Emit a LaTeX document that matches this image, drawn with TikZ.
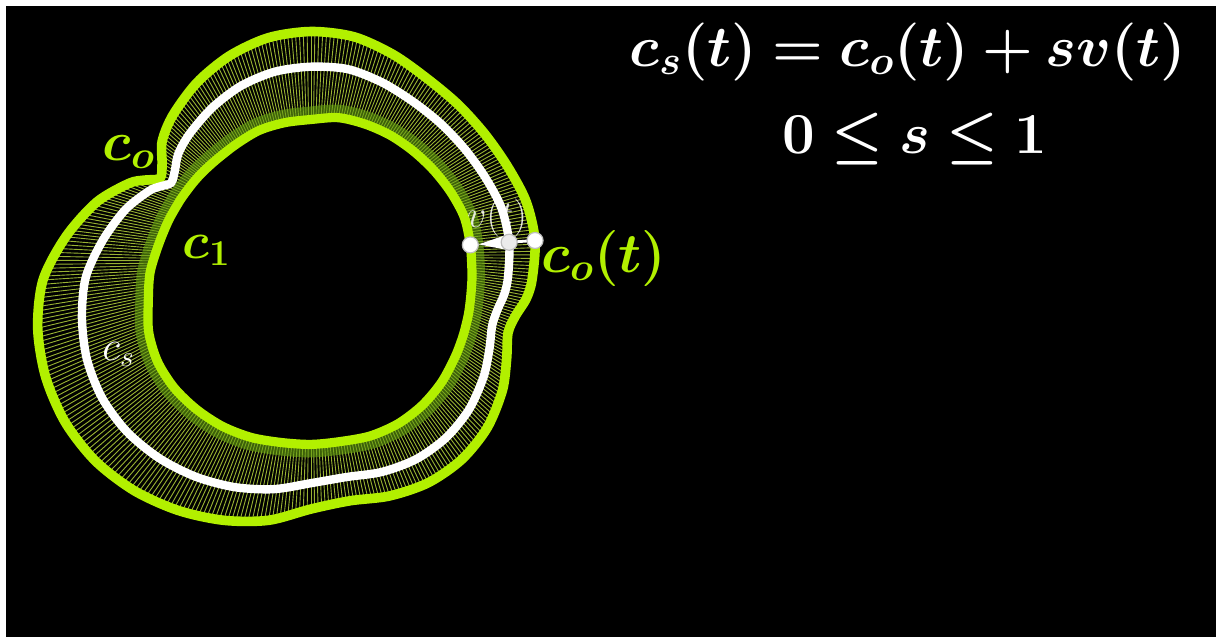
\RequirePackage{fix-cm}
\documentclass[tikz,border=0pt]{standalone}
\usepackage{bm}
\usetikzlibrary{calc,arrows.meta}
\definecolor{lime}{RGB}{178,240,0}
\definecolor{hatchc}{RGB}{180,210,60}
\definecolor{olivec}{RGB}{100,160,15}
\begin{document}
\begin{tikzpicture}[x=0.5pt,y=-0.5pt,
  co/.style={draw=lime,line width=4.8pt},
  cone/.style={draw=lime,line width=4.6pt},
  cs/.style={draw=white,line width=4.2pt},
  hatch/.style={draw=hatchc,line width=0.45pt,opacity=0.85},
  band/.style={draw=olivec,line width=13pt,opacity=0.6},
  dot/.style={circle,fill=white,draw=black!25,line width=0.6pt,minimum size=8pt,inner sep=0pt},
  vec/.style={draw=white,line width=1.4pt,-{Triangle[length=14pt,width=7pt]}},
  lbl/.style={inner sep=0pt,anchor=base west},
]
\useasboundingbox (0,0) rectangle (1216,637);
\fill[white] (0,0) rectangle (1216,637);
\fill[black] (6,6) rectangle (1216,637);

\def\cdata{0/221/161,10/227.5/163,20/229/165.5,30/227/165,40/227/164.5,50/229/164.5,60/232.5/165,70/240/165,80/247/164.6,90/248.5/160.5,100/246/159.5,110/238.5/158.3,120/228/155,130/215/153,137/203.5/152.8,142/189/152.8,146/182/152.8,149/194/153,152/206/153.2,160/228/154.3,170/249/156.5,180/268/161,190/277.5/164,200/282.5/170.3,210/284/173.7,220/281.5/174.1,230/275/172.7,240/266/171,250/255.7/168.4,260/244/165.2,270/229/164.4,280/224.2/164.2,290/229.8/166.8,300/234.2/168,310/234.4/167.5,320/230/165.8,330/221/163.2,338/211/161.8,345/204/161,350/207.5/160.5,355/216/160.5}

\gdef\olist{}\gdef\ilist{}\gdef\mlist{}
\foreach \a/\ro/\ri [count=\k] in \cdata {
  \coordinate (o\k) at ({311+\ro*cos(\a)},{280-\ro*sin(\a)});
  \coordinate (i\k) at ({311+(\ri-7*sin(\a))*cos(\a)},{273-(\ri-7*sin(\a))*sin(\a)});
  \coordinate (m\k) at ($(o\k)!0.4!(i\k)$);
  \expandafter\xdef\csname ang\k\endcsname{\a}
  \xdef\olist{\olist(o\k)}
  \xdef\ilist{\ilist(i\k)}
  \xdef\mlist{\mlist(m\k)}
  \xdef\N{\k}
}

% hatch lines joining c_o(t) and c_1(t)
\foreach \k in {1,...,\N} {
  \pgfmathtruncatemacro\kk{mod(\k,\N)+1}
  \edef\angA{\csname ang\k\endcsname}
  \edef\angB{\csname ang\kk\endcsname}
  \pgfmathsetmacro\spn{mod(\angB-\angA+360,360)}
  \pgfmathtruncatemacro\nn{round(1.1*\spn)}
  \foreach \j in {1,...,\nn} {
    \pgfmathsetmacro\uu{(\j-1)/\nn}
    \draw[hatch] ($(o\k)!\uu!(o\kk)$) -- ($(i\k)!\uu!(i\kk)$);
  }
}

% green band outside c_1
\begin{scope}[even odd rule]
\edef\tmp{\noexpand\clip (6,6) rectangle (1216,637) plot[smooth cycle] coordinates {\ilist};}\tmp
\edef\tmp{\noexpand\draw[band] plot[smooth cycle] coordinates {\ilist};}\tmp
\end{scope}

\edef\tmp{\noexpand\draw[co] plot[smooth cycle] coordinates {\olist};}\tmp
\edef\tmp{\noexpand\draw[cone] plot[smooth cycle] coordinates {\ilist};}\tmp
\edef\tmp{\noexpand\draw[cs] plot[smooth cycle] coordinates {\mlist};}\tmp

% vector v(t)
\draw[vec,shorten >=4pt] (o2) -- (i2);
\node[dot] (dO) at (o2) {};
\node[dot,fill=white!92!black] (dM) at (m2) {};
\node[dot] (dI) at (i2) {};

% labels
\node[lbl,text=lime,font=\fontsize{28}{30}\selectfont] (lco) at (102,160) {$\bm{c_o}$};
\node[lbl,text=lime,font=\fontsize{26}{28}\selectfont] (lc1) at (182,258) {$\bm{c_1}$};
\node[lbl,text=lime,font=\fontsize{28}{30}\selectfont] (lcot) at (541,272) {$\bm{c_o(t)}$};
\node[lbl,text=white,font=\fontsize{21}{24}\selectfont] (lcs) at (102,360) {$c_s$};
\node[inner sep=0pt,anchor=base,text=white,text opacity=0.85,font=\fontsize{19}{22}\selectfont] (lv) at (497,227) {$v(t)$};
\node[inner sep=0pt,anchor=base,text=white,font=\fontsize{29}{34}\selectfont] (f1) at (908,66) {$\bm{c_s(t)=c_o(t)+sv(t)}$};
\node[inner sep=0pt,anchor=base,text=white,font=\fontsize{29}{34}\selectfont] (f2) at (915,153) {$\bm{0\leq s\leq 1}$};
\end{tikzpicture}
\end{document}
